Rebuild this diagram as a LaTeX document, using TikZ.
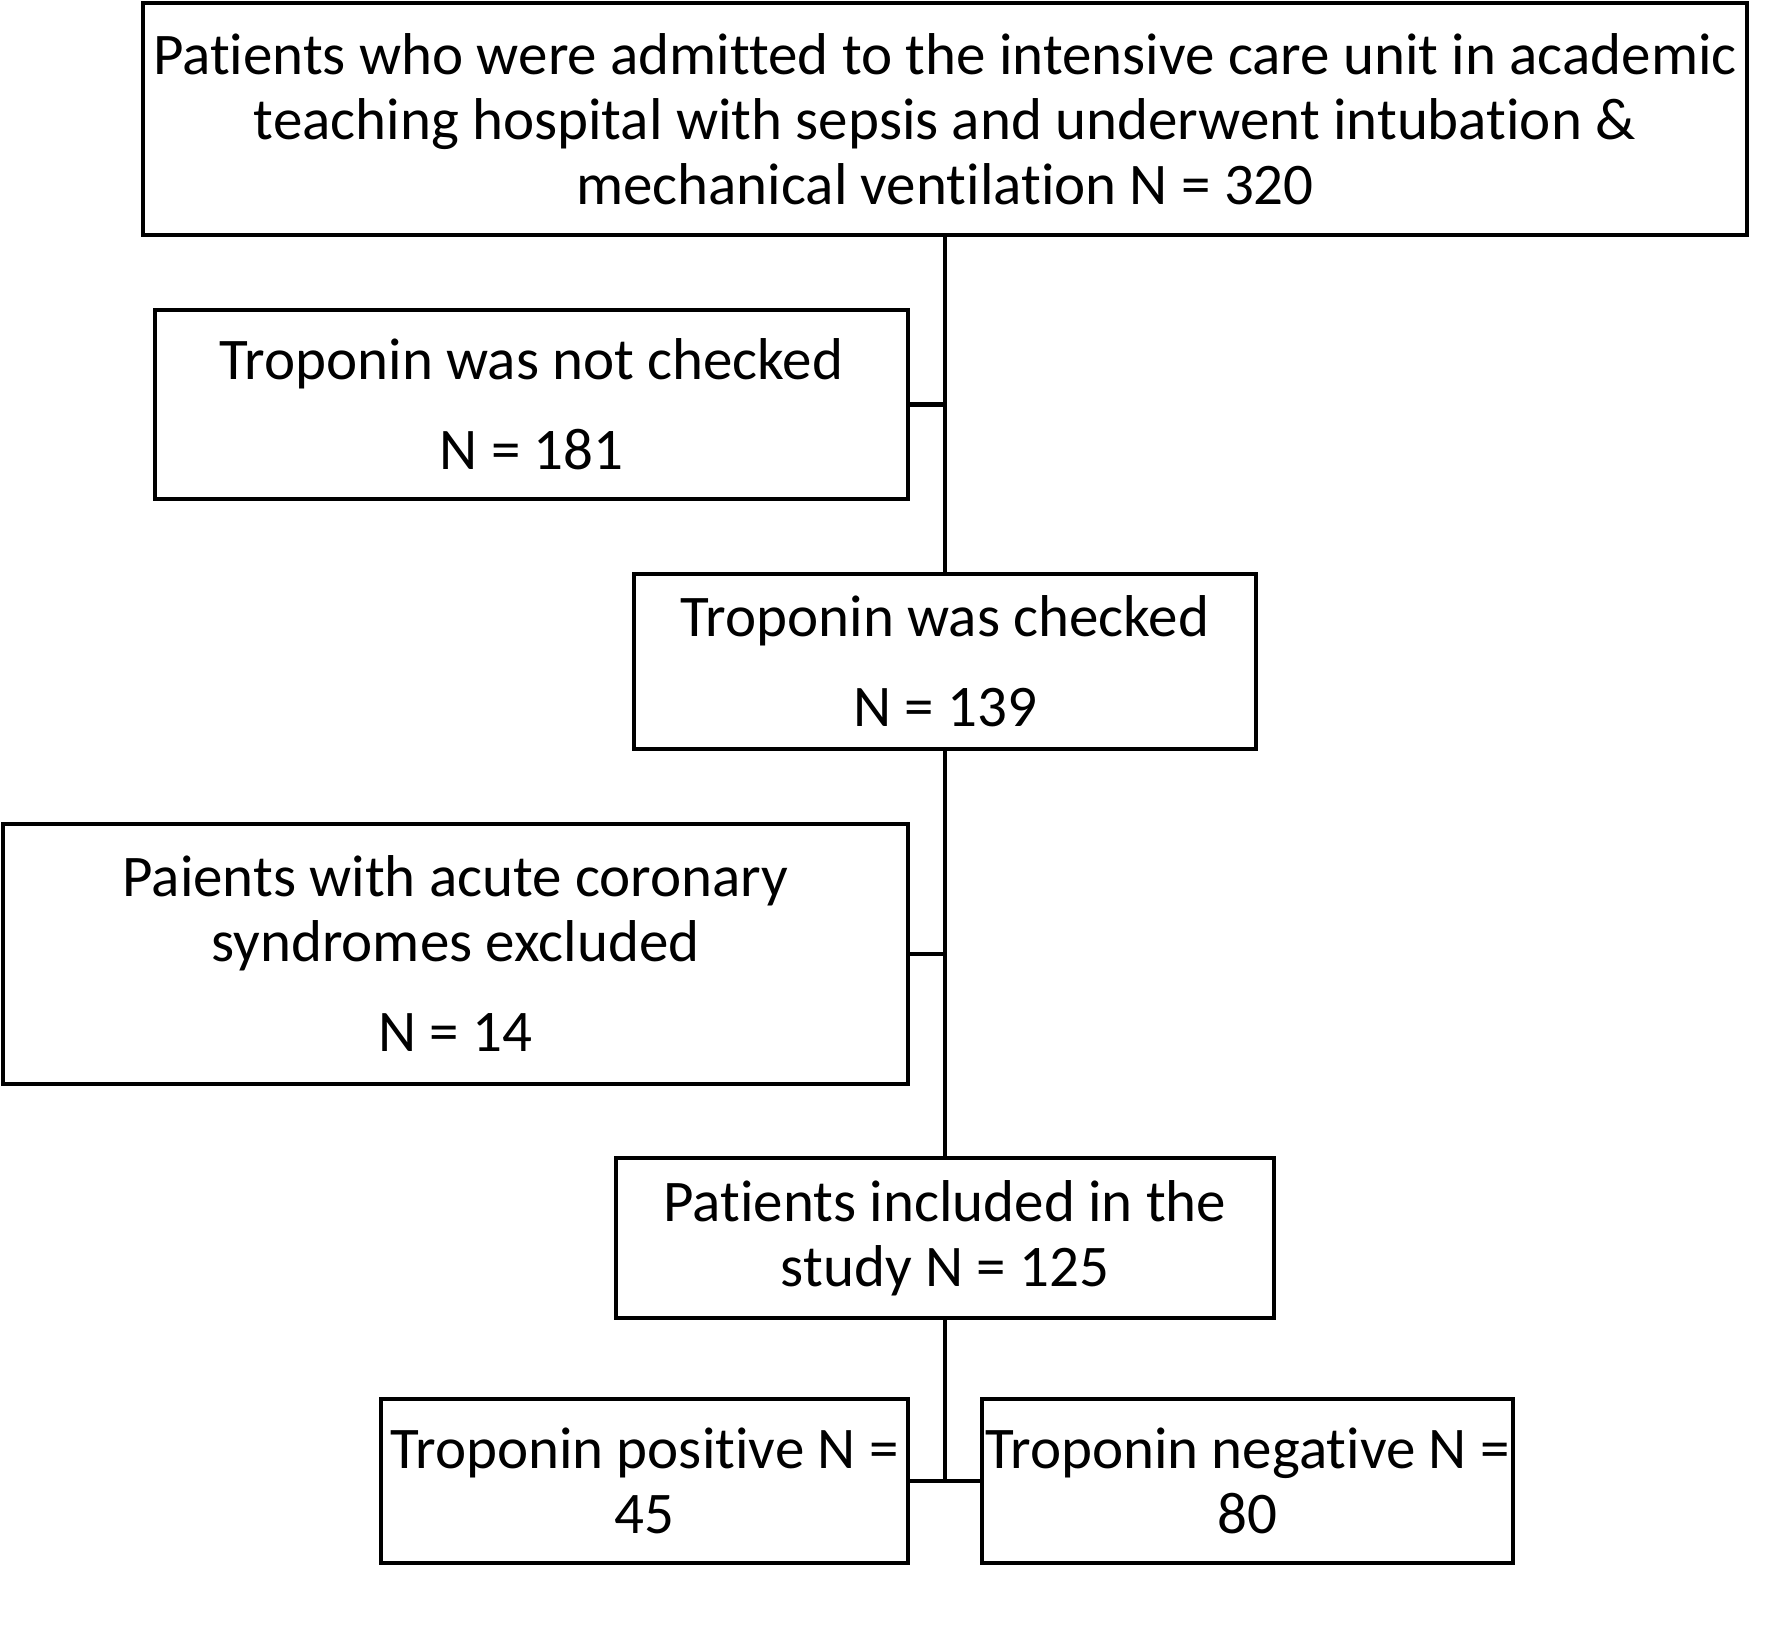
\documentclass[tikz,border=0pt]{standalone}
\usepackage{fontspec}
\setmainfont{Carlito}[Ligatures=NoCommon]
\begin{document}
\begin{tikzpicture}[x=1pt,y=-1pt,
  box/.style={draw=black,line width=4.5pt,rectangle,outer sep=0pt,inner sep=0pt,align=center,
    font=\fontsize{59}{65}\selectfont},
  link/.style={draw=black,line width=4.5pt}]
\useasboundingbox (0,0) rectangle (1772,1627);
\node[box,minimum width=1604pt,minimum height=232pt] (top) at (945,119)
  {Patients who were admitted to the intensive care unit in academic\\teaching hospital with sepsis and underwent intubation \&\\mechanical ventilation N = 320};
\node[box,minimum width=753pt,minimum height=189pt] (b2) at (531.5,404.5)
  {Troponin was not checked\\[25pt]N = 181};
\node[box,minimum width=622pt,minimum height=175pt] (b3) at (945,661.5)
  {Troponin was checked\\[25pt]N = 139};
\node[box,minimum width=905pt,minimum height=260pt] (b4) at (455.5,954)
  {Paients with acute coronary\\syndromes excluded\\[25pt]N = 14};
\node[box,minimum width=658pt,minimum height=160pt] (b5) at (945,1238)
  {Patients included in the\\study N = 125};
\node[box,minimum width=527pt,minimum height=164pt] (b6) at (644.5,1481)
  {Troponin positive N =\\45};
\node[box,minimum width=531pt,minimum height=164pt] (b7) at (1247.5,1481)
  {Troponin negative N =\\80};
\coordinate (j) at (b5.south |- b6.east);
\draw[link] (top.south) -- (b3.north);
\draw[link] (b2.east) -- (b2.east -| top.south);
\draw[link] (b3.south) -- (b5.north);
\draw[link] (b4.east) -- (b4.east -| b3.south);
\draw[link] (b5.south) -- (j);
\draw[link] (b6.east) -- (b7.west);
\end{tikzpicture}
\end{document}
